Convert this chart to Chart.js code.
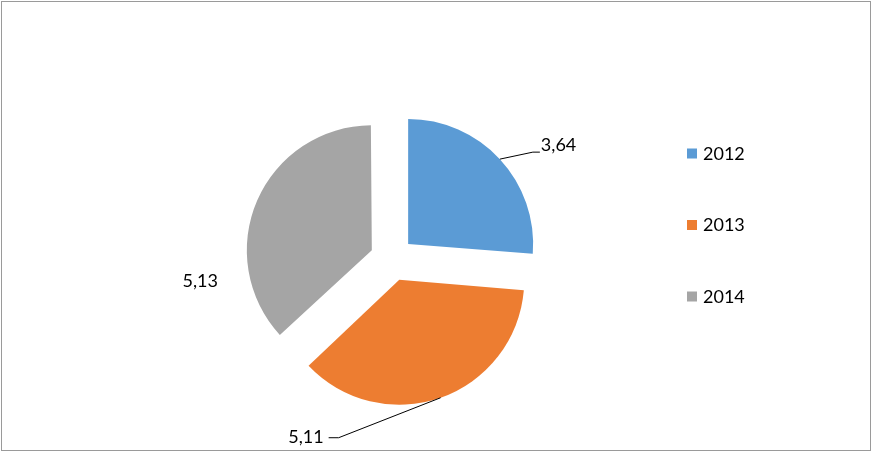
<!DOCTYPE html>
<html>
<head>
<meta charset="utf-8">
<script src="https://cdn.jsdelivr.net/npm/chart.js@4"></script>
<style>
  html, body { margin: 0; padding: 0; background: #fff; }
  #wrap { width: 873px; height: 452px; }
</style>
</head>
<body>
<div id="wrap"><canvas id="chartPie" width="873" height="452"></canvas></div>
<script>
// data
const years = ['2012', '2013', '2014'];
const values = [3.64, 5.11, 5.13];
const valueLabels = ['3,64', '5,11', '5,13'];

const colors = ['#5B9BD5', '#ED7D31', '#A5A5A5'];
const pieRadius = 125;
const explode = 22;

// chart.js translates an arc by offset/4 and grows its radius by offset/4*(1 - sin(circ))
const total = values.reduce((a, b) => a + b, 0);
const radiusGrow = values.map(v => {
    const circ = v / total * Math.PI * 2;
    return explode * (1 - Math.sin(Math.min(Math.PI, circ)));
});

// label placement relative to the middle of each slice's outer edge
const labelPos = [
    { dx: 41, dy: -13.5, align: 'left', line: [[33, -7], [40, -7]] },
    { dx: -117, dy: 39, align: 'right', line: [[-102, 40], [-112, 40]] },
    { dx: -57, dy: 81, align: 'center', line: null }
];

const fontFam = 'Lato, "Open Sans", sans-serif';

// keep every slice the same size after exploding
const radiusFix = {
    id: 'radiusFix',
    beforeDatasetsDraw(chart) {
        chart.getDatasetMeta(0).data.forEach((arc, i) => {
            arc.outerRadius = pieRadius - radiusGrow[i];
        });
    }
};

const decoPlugin = {
    id: 'deco',
    afterDraw(chart) {
        const ctx = chart.ctx;
        const meta = chart.getDatasetMeta(0);
        ctx.save();

        // outer frame
        ctx.strokeStyle = '#9a9a9a';
        ctx.lineWidth = 1;
        ctx.strokeRect(1.5, 1.5, 869, 449);

        ctx.font = '18px ' + fontFam;
        ctx.fillStyle = '#000';
        ctx.textBaseline = 'middle';

        meta.data.forEach((arc, i) => {
            const p = arc.getProps(['x', 'y', 'startAngle', 'endAngle'], true);
            const mid = (p.startAngle + p.endAngle) / 2;
            const cx = p.x + Math.cos(mid) * explode;
            const cy = p.y + Math.sin(mid) * explode;
            const ex = cx + Math.cos(mid) * pieRadius;
            const ey = cy + Math.sin(mid) * pieRadius;
            const lp = labelPos[i];

            if (lp.line) {
                ctx.strokeStyle = '#000';
                ctx.lineWidth = 1;
                ctx.beginPath();
                ctx.moveTo(ex, ey);
                lp.line.forEach(pt => ctx.lineTo(ex + pt[0], ey + pt[1]));
                ctx.stroke();
            }
            ctx.textAlign = lp.align;
            ctx.fillText(valueLabels[i], ex + lp.dx, ey + lp.dy);
        });

        // legend
        ctx.textAlign = 'left';
        chart.data.labels.forEach((lab, i) => {
            const y = 154 + i * 71.5;
            ctx.fillStyle = colors[i];
            ctx.fillRect(687, y - 5.5, 10, 10);
            ctx.fillStyle = '#000';
            ctx.fillText(lab, 703, y);
        });

        ctx.restore();
    }
};

new Chart(document.getElementById('chartPie'), {
    type: 'pie',
    data: {
        labels: years,
        datasets: [{
            data: values,
            backgroundColor: colors,
            borderWidth: 0,
            offset: explode * 4
        }]
    },
    options: {
        responsive: false,
        devicePixelRatio: 1,
        animation: false,
        radius: pieRadius,
        layout: { padding: { left: 0, right: 89, top: 66, bottom: 0 } },
        plugins: {
            legend: { display: false },
            tooltip: { enabled: false }
        }
    },
    plugins: [radiusFix, decoPlugin]
});
</script>
</body>
</html>
